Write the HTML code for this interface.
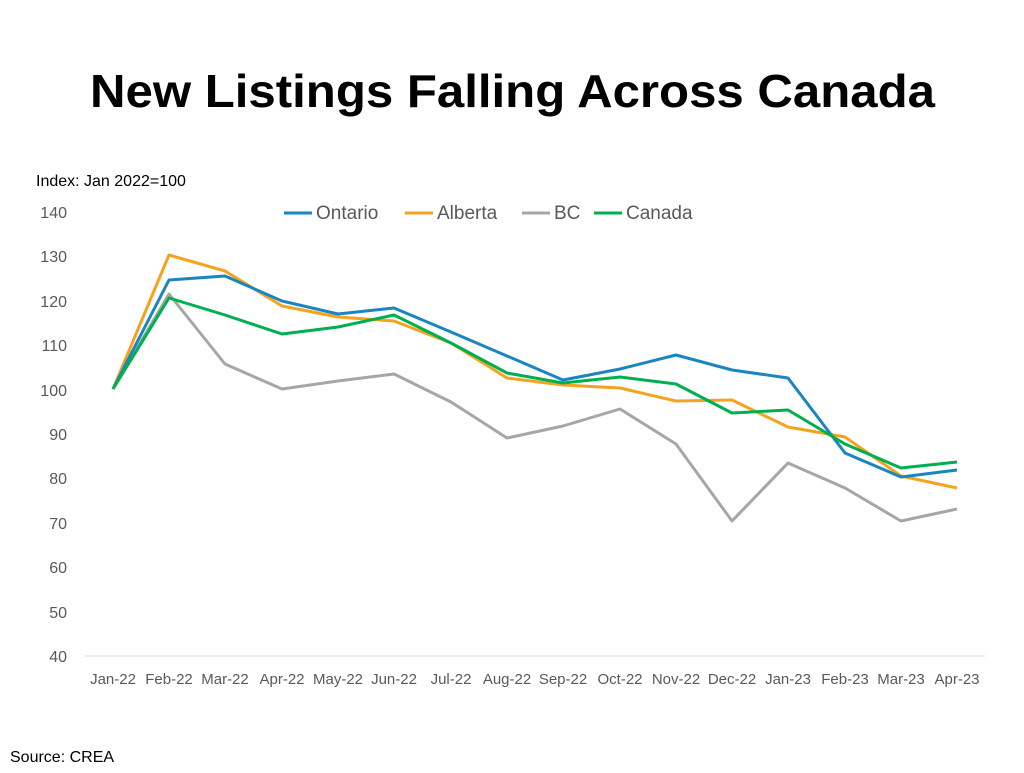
<!DOCTYPE html>
<html><head><meta charset="utf-8"><style>
html,body{margin:0;padding:0;background:#fff;}
body{width:1024px;height:768px;overflow:hidden;font-family:"Liberation Sans",sans-serif;}
</style></head><body>
<svg width="1024" height="768" xmlns="http://www.w3.org/2000/svg" font-family="Liberation Sans, sans-serif">
<text x="90" y="107" textLength="845" lengthAdjust="spacingAndGlyphs" font-size="46" font-weight="bold" fill="#000">New Listings Falling Across Canada</text>
<text x="36" y="186" font-size="16" fill="#000">Index: Jan 2022=100</text>
<g font-size="16" fill="#595959" text-anchor="end">
<text x="67" y="218">140</text><text x="67" y="262">130</text><text x="67" y="307">120</text>
<text x="67" y="351">110</text><text x="67" y="396">100</text><text x="67" y="440">90</text>
<text x="67" y="484">80</text><text x="67" y="529">70</text><text x="67" y="573">60</text>
<text x="67" y="618">50</text><text x="67" y="662">40</text>
</g>
<line x1="85" y1="656" x2="985" y2="656" stroke="#d9d9d9" stroke-width="1"/>
<g font-size="15" fill="#595959" text-anchor="middle">
<text x="113" y="684">Jan-22</text><text x="169" y="684">Feb-22</text><text x="225" y="684">Mar-22</text>
<text x="282" y="684">Apr-22</text><text x="338" y="684">May-22</text><text x="394" y="684">Jun-22</text>
<text x="451" y="684">Jul-22</text><text x="507" y="684">Aug-22</text><text x="563" y="684">Sep-22</text>
<text x="620" y="684">Oct-22</text><text x="676" y="684">Nov-22</text><text x="732" y="684">Dec-22</text>
<text x="788" y="684">Jan-23</text><text x="845" y="684">Feb-23</text><text x="901" y="684">Mar-23</text>
<text x="957" y="684">Apr-23</text>
</g>
<g fill="none" stroke-width="3" stroke-linejoin="round">
<polyline stroke="#a6a6a6" points="113,389 169,294 225,364 282,389 338,381 394,374 451,402 507,438 563,426 620,409 676,444 732,521 788,463 845,488 901,521 957,509"/>
<polyline stroke="#f5a31f" points="113,389 169,255 225,271 282,306 338,317 394,321 451,343 507,378 563,385 620,388 676,401 732,400 788,427 845,437 901,476 957,488"/>
<polyline stroke="#1a86c1" points="113,389 169,280 225,276 282,301 338,314 394,308 451,332 507,356 563,380 620,369 676,355 732,370 788,378 845,453 901,477 957,470"/>
<polyline stroke="#00b050" points="113,389 169,298 225,315 282,334 338,327 394,315 451,343 507,373 563,383 620,377 676,384 732,413 788,410 845,444 901,468 957,462"/>
</g>
<g font-size="19" fill="#595959">
<line x1="284" y1="213" x2="312" y2="213" stroke="#1a86c1" stroke-width="3"/><text x="316" y="219">Ontario</text>
<line x1="405" y1="213" x2="433" y2="213" stroke="#f5a31f" stroke-width="3"/><text x="437" y="219">Alberta</text>
<line x1="522" y1="213" x2="550" y2="213" stroke="#a6a6a6" stroke-width="3"/><text x="554" y="219">BC</text>
<line x1="594" y1="213" x2="622" y2="213" stroke="#00b050" stroke-width="3"/><text x="626" y="219">Canada</text>
</g>
<text x="10" y="762" font-size="16" fill="#000">Source: CREA</text>
</svg>
</body></html>
